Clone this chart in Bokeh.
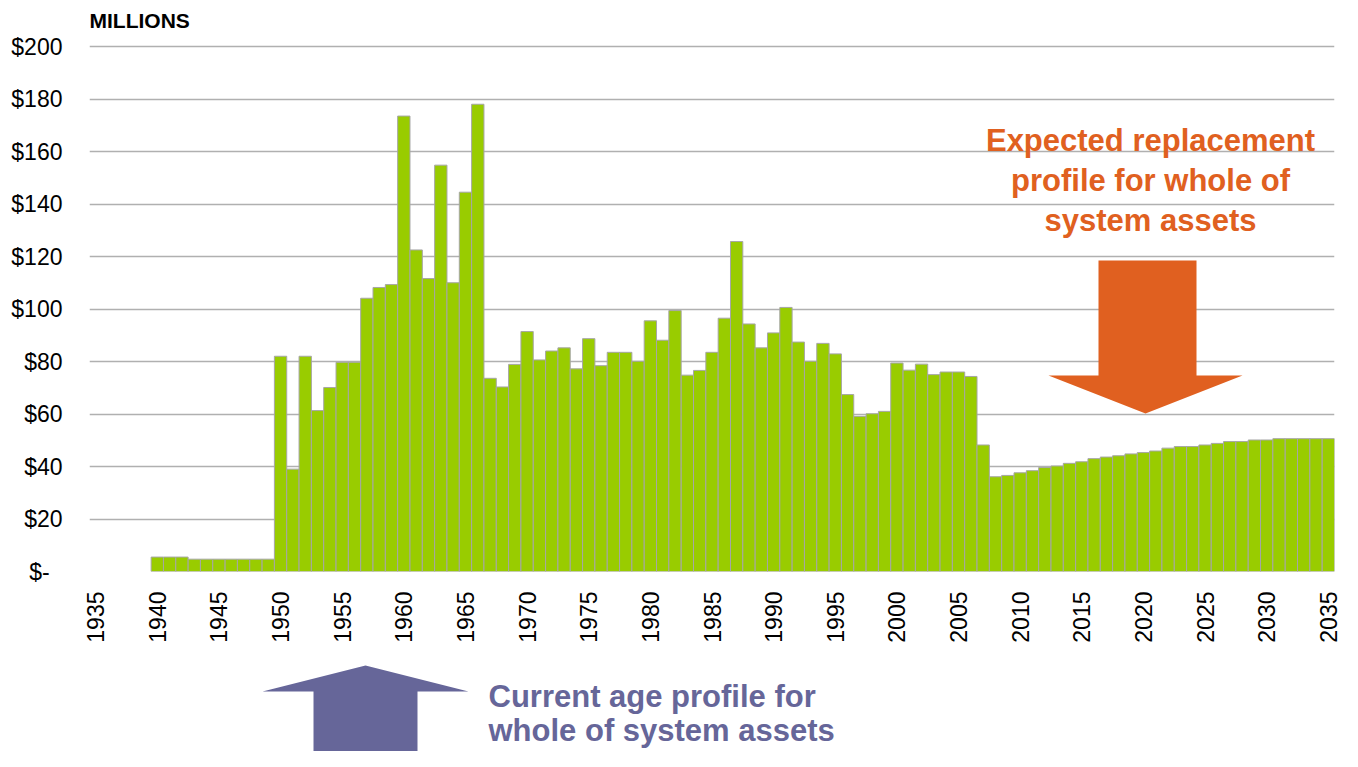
from bokeh.plotting import figure
from bokeh.models import Range1d, FixedTicker, Label, PolyAnnotation
from bokeh.layouts import column
from bokeh.embed import file_html
from bokeh.resources import INLINE
import math

# ---------------- data ----------------
years = list(range(1940, 2036))
values = [
    5.5, 5.5, 5.5, 4.7, 4.7, 4.7, 4.7, 4.7, 4.7, 4.7,           # 1940-1949
    82.0, 39.0, 82.0, 61.3, 70.1, 79.7, 79.7, 104.1, 108.2, 109.3,  # 1950-1959
    173.5, 122.5, 111.6, 154.8, 110.0, 144.5, 178.0, 73.6, 70.3, 78.9,  # 1960-1969
    91.4, 80.6, 84.0, 85.2, 77.2, 88.7, 78.4, 83.5, 83.5, 80.1,   # 1970-1979
    95.5, 88.1, 99.4, 74.8, 76.6, 83.5, 96.5, 125.7, 94.3, 85.2,  # 1980-1989
    90.9, 100.6, 87.4, 80.1, 86.9, 82.9, 67.4, 59.1, 60.1, 61.0,  # 1990-1999
    79.4, 76.7, 79.0, 75.0, 76.0, 76.0, 74.3, 48.2, 36.1, 36.6,   # 2000-2009
    37.6, 38.4, 39.6, 40.2, 41.2, 41.8, 43.0, 43.6, 44.1, 44.8,   # 2010-2019
    45.3, 45.9, 47.0, 47.6, 47.6, 48.2, 48.8, 49.5, 49.5, 50.1,   # 2020-2029
    50.1, 50.6, 50.6, 50.6, 50.6, 50.6,                           # 2030-2035
]
x_ticks = [1935, 1940, 1945, 1950, 1955, 1960, 1965, 1970, 1975, 1980, 1985,
           1990, 1995, 2000, 2005, 2010, 2015, 2020, 2025, 2030, 2035]
y_ticks = [0, 20, 40, 60, 80, 100, 120, 140, 160, 180, 200]
y_labels = ["$-\u00a0\u00a0", "$20", "$40", "$60", "$80", "$100",
            "$120", "$140", "$160", "$180", "$200"]

GREEN = "#99CC00"
ORANGE = "#E06020"
PURPLE = "#666699"
FONT = "Liberation Sans"

# ---------------- layout constants (pixels) ----------------
W = 1342
FRAME_L, FRAME_R = 89, 1334
BASE = 571            # pixel row of $0
P_H = 651             # height of main figure
Q_H = 751 - P_H       # height of annotation strip below
X0, X1 = 1934.5, 2035.5
SX = (FRAME_R - FRAME_L) / (X1 - X0)
SY = 525 / 200        # pixels per $1M


def px2x(px):
    return X0 + (px - FRAME_L) / SX


def py2y(py):
    return (BASE - py) / SY


def base_y(py, size):
    # label anchor giving a text baseline at pixel row py
    return py2y(py - 0.38 * size)


# ---------------- main chart ----------------
p = figure(width=W, height=P_H, output_backend="svg", toolbar_location=None,
           x_range=Range1d(X0, X1), y_range=Range1d(0, py2y(0)),
           min_border_left=FRAME_L, min_border_right=W - FRAME_R,
           min_border_top=0, min_border_bottom=P_H - BASE,
           outline_line_color=None,
           background_fill_color="white", border_fill_color="white")

p.vbar(x=years, top=values, width=1.0, fill_color=GREEN,
       line_color="#A6A6A6", line_width=1)

p.xaxis.ticker = FixedTicker(ticks=x_ticks)
p.xaxis.major_label_overrides = {t: str(t) for t in x_ticks}
p.xaxis.major_label_orientation = math.pi / 2
p.xaxis.major_label_text_font = FONT
p.xaxis.major_label_text_font_size = "23px"
p.xaxis.major_label_text_color = "#000000"
p.xaxis.major_label_standoff = 14
p.xaxis.axis_line_color = None
p.xaxis.major_tick_line_color = None
p.xaxis.minor_tick_line_color = None

p.yaxis.ticker = FixedTicker(ticks=y_ticks)
p.yaxis.major_label_overrides = dict(zip(y_ticks, y_labels))
p.yaxis.major_label_text_font = FONT
p.yaxis.major_label_text_font_size = "23px"
p.yaxis.major_label_text_color = "#000000"
p.yaxis.major_label_standoff = 21
p.yaxis.axis_line_color = None
p.yaxis.major_tick_line_color = None
p.yaxis.minor_tick_line_color = None

p.xgrid.grid_line_color = None
p.ygrid.grid_line_color = "#B0B0B0"
p.ygrid.grid_line_width = 1.5

# unit label
p.add_layout(Label(x=px2x(89), y=base_y(27.5, 21), text="MILLIONS", text_font=FONT,
                   text_font_style="bold", text_font_size="21px",
                   text_color="#000000", text_baseline="alphabetic"))

# orange downward arrow + text
ox = [1098, 1196, 1196, 1242, 1145, 1048, 1098]
oy = [260, 260, 375, 375, 413, 375, 375]
p.add_layout(PolyAnnotation(xs=[px2x(v) for v in ox], ys=[py2y(v) for v in oy],
                            fill_color=ORANGE, fill_alpha=1.0, line_color=None))
for txt, by in [("Expected replacement", 152),
                ("profile for whole of", 191.5),
                ("system assets", 231.5)]:
    p.add_layout(Label(x=px2x(1150), y=base_y(by, 31), text=txt, text_font=FONT,
                       text_font_style="bold", text_font_size="31px",
                       text_color=ORANGE, text_align="center",
                       text_baseline="alphabetic"))

# ---------------- strip below the axis (purple arrow + text) ----------------
q = figure(width=W, height=Q_H, output_backend="svg", toolbar_location=None,
           x_range=p.x_range, y_range=Range1d(py2y(751), py2y(P_H)),
           min_border_left=FRAME_L, min_border_right=W - FRAME_R,
           min_border_top=0, min_border_bottom=0,
           x_axis_location=None, y_axis_location=None,
           outline_line_color=None,
           background_fill_color="white", border_fill_color="white")
q.grid.grid_line_color = None

ux = [313, 417, 417, 468, 365, 262, 313]
uy = [760, 760, 691, 691, 665, 691, 691]
q.add_layout(PolyAnnotation(xs=[px2x(v) for v in ux], ys=[py2y(v) for v in uy],
                            fill_color=PURPLE, fill_alpha=1.0, line_color=None))
for txt, by in [("Current age profile for", 708),
                ("whole of system assets", 742)]:
    q.add_layout(Label(x=px2x(488), y=base_y(by, 31), text=txt, text_font=FONT,
                       text_font_style="bold", text_font_size="31px",
                       text_color=PURPLE, text_align="left",
                       text_baseline="alphabetic"))

layout = column(p, q, spacing=0)
open("out.html", "w").write(file_html(layout, INLINE))
